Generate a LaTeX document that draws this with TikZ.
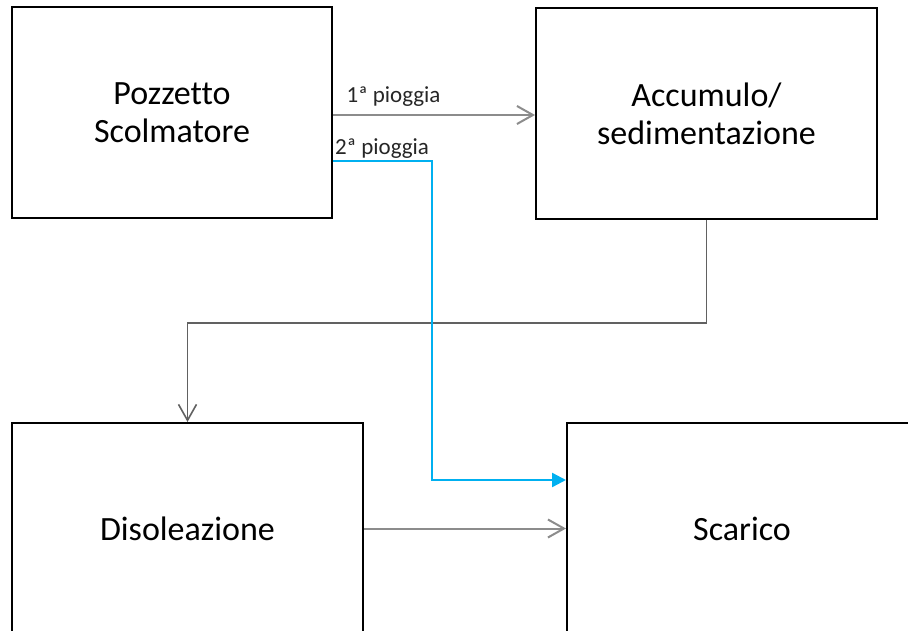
\documentclass[tikz,border=0pt]{standalone}
\usepackage{fontspec}
\setmainfont[Ligatures=NoCommon]{Carlito}
\usetikzlibrary{arrows.meta}
\usetikzlibrary{positioning}
\definecolor{rainblue}{HTML}{00B0F0}

\begin{document}
\begin{tikzpicture}[x=1pt,y=-1pt,
  box/.style={draw=black, line width=2pt, minimum width=#1, minimum height=211pt,
    align=center, inner sep=0pt, font=\fontsize{34}{38}\selectfont},
  flow/.style={draw=black!45, line width=2pt, -{Straight Barb[length=16pt,width=18pt]}},
  back/.style={draw=black!62, line width=1.6pt, -{Straight Barb[length=16pt,width=18pt]}},
  rain/.style={draw=rainblue, line width=2.4pt, -{Triangle[length=14pt,width=14pt]}},
  tag/.style={font=\fontsize{23}{25}\selectfont, text=black!85, inner sep=2pt}]
\useasboundingbox (0,0) rectangle (908,631);
\clip (0,0) rectangle (908,631);

\node[box=320pt] (pozzetto) at (172,112.5) {Pozzetto\\Scolmatore};
\node[box=341pt] (accumulo) at (706.5,113.5) {Accumulo/\\sedimentazione};
\node[box=351pt] (disol) at (187.5,528.5) {Disoleazione};
\node[box=350pt] (scarico) at (742,528.5) {Scarico};

\coordinate (turn) at (432,480);

\draw[flow] ([yshift=-2.5pt]pozzetto.east) -- ([yshift=-2.5pt]pozzetto.east -| accumulo.west)
  node[tag, above, pos=0.3, yshift=6pt] {1ª pioggia};
\draw[back] (accumulo.south) -- ++(0,103) -| (disol.north);
\draw[flow] (disol.east) -- (scarico.west);
\draw[rain] ([yshift=-48.5pt]pozzetto.east) -| (turn) -- (turn -| scarico.west);
\node[tag, above right] (second) at ([yshift=-48.5pt]pozzetto.east) {2ª pioggia};

\end{tikzpicture}
\end{document}
